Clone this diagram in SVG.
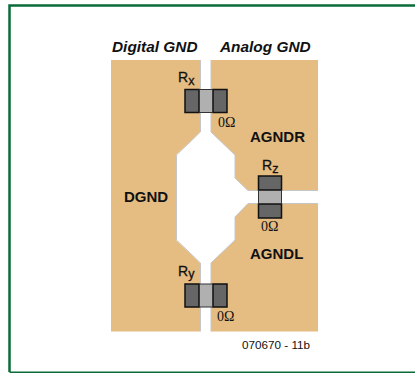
<svg xmlns="http://www.w3.org/2000/svg" width="415" height="373" viewBox="0 0 415 373">
<style>
.cu{fill:#e5bc82}
.edge{fill:none;stroke:#c6c6c6;stroke-width:1}
.pad{fill:#666;stroke:#111;stroke-width:1.5}
.body{fill:#b0b0b0}
.l{font-family:"Liberation Sans",Arial,sans-serif;fill:#111}
.b{font-weight:bold;font-size:15px}
.bi{font-weight:bold;font-style:italic;font-size:15.4px}
.r{font-size:14px;stroke:#111;stroke-width:.3}
.s{font-size:11.7px}
.o{font-family:"Liberation Serif","Times New Roman",serif;font-size:14px;fill:#111}
</style>
<rect width="415" height="373" fill="#fff"/>
<path d="M415 5.500H9.500V372" fill="none" stroke="#0b6b39" stroke-width="2.500"/>
<path d="M9.500 372.300H415" fill="none" stroke="#0b6b39" stroke-width="1.500"/>
<g id="copper">
<path class="cu" d="M111 60H200V132L176 155V240L200 263V331.500H111Z"/>
<path class="cu" d="M211 60H318V190.500H248L235 178V155L211 132Z"/>
<path class="cu" d="M211 331.500H318V203.500H248L235 217V240L211 263Z"/>
<path class="edge" d="M200.500 60V132L176.500 155V240L200.500 263V331.500"/>
<path class="edge" d="M211 60V132L235 155V178L248 190.500H318"/>
<path class="edge" d="M211 331.500V263L235 240V217L248 203.500H318"/>
</g>
<text class="l bi" x="112" y="52">Digital GND</text>
<text class="l bi" x="220" y="52">Analog GND</text>
<text class="l b" x="250" y="142">AGNDR</text>
<text class="l b" x="124" y="202">DGND</text>
<text class="l b" x="250" y="259">AGNDL</text>
<g id="Rx">
<rect class="body" x="199" y="90" width="14" height="22"/>
<rect class="pad" x="185" y="89.500" width="14" height="23"/>
<rect class="pad" x="213" y="89.500" width="14" height="23"/>
<path d="M199 89.500H213M199 112.500H213" stroke="#333"/>
<text class="l r" x="178" y="82">R<tspan font-size="12.500" dy="3">x</tspan></text>
<text class="o" x="218" y="127">0Ω</text>
</g>
<g id="Rz">
<rect class="body" x="259" y="190" width="22" height="14"/>
<rect class="pad" x="258.500" y="176" width="23" height="14"/>
<rect class="pad" x="258.500" y="204" width="23" height="14"/>
<path d="M258.500 190V204M281.500 190V204" stroke="#333"/>
<text class="l r" x="262" y="170">R<tspan font-size="12.500" dy="3">z</tspan></text>
<text class="o" x="261" y="231">0Ω</text>
</g>
<g id="Ry">
<rect class="body" x="199" y="284" width="14" height="23"/>
<rect class="pad" x="185" y="284" width="14" height="23"/>
<rect class="pad" x="213" y="284" width="14" height="23"/>
<path d="M199 284H213M199 307H213" stroke="#333"/>
<text class="l r" x="178" y="276">R<tspan font-size="12.500" dy="2">y</tspan></text>
<text class="o" x="217" y="321">0Ω</text>
</g>
<text class="l s" x="242" y="349" fill="#333">070670 - 11b</text>
</svg>
